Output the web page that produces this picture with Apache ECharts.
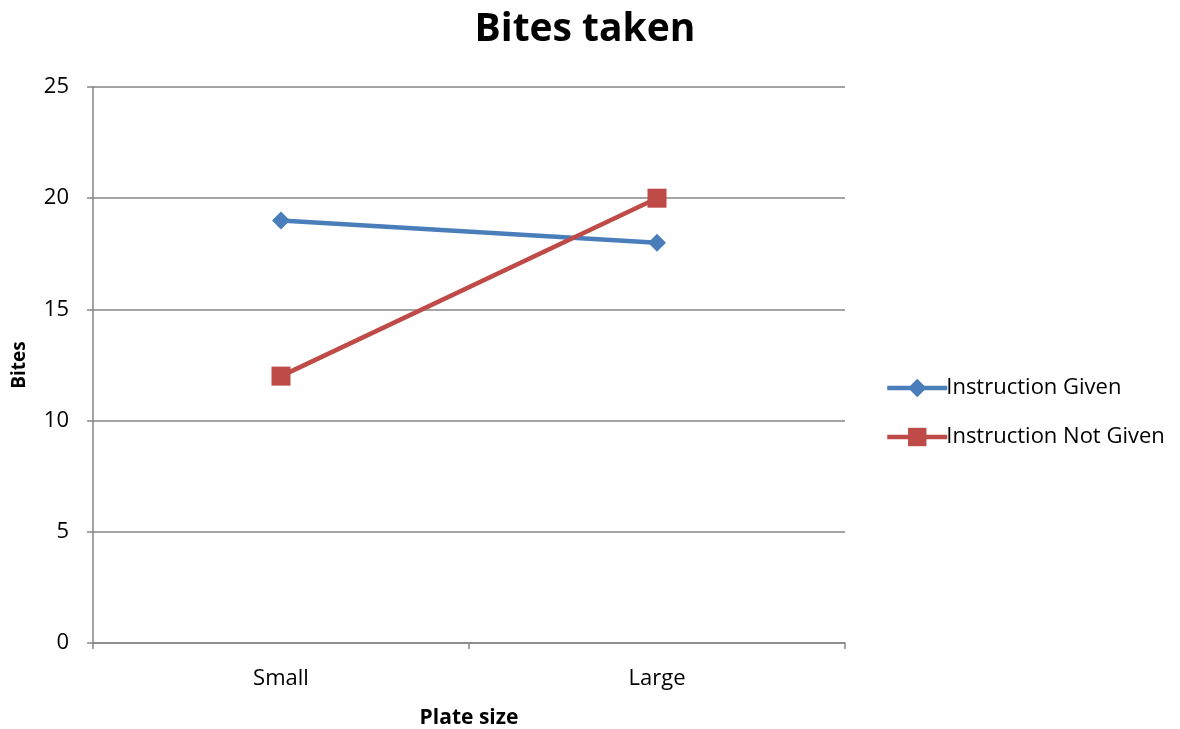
<!DOCTYPE html>
<html>
<head>
<meta charset="utf-8">
<title>Bites taken</title>
<script src="https://cdn.jsdelivr.net/npm/echarts@6/dist/echarts.min.js"></script>
<style>
  html, body { margin: 0; padding: 0; background: #fff; }
  #chart { width: 1180px; height: 729px; }
</style>
</head>
<body>
<div id="chart"></div>
<script>
const categories = ['Small', 'Large'];
const instructionGiven = [19, 18];
const instructionNotGiven = [12, 20];
const yTicks = { min: 0, max: 25, interval: 5 };

const FONT = '"Open Sans", "Liberation Sans", sans-serif';
const chart = echarts.init(document.getElementById('chart'), null, { renderer: 'canvas' });

chart.setOption({
  animation: false,
  backgroundColor: '#ffffff',
  textStyle: { fontFamily: FONT },
  title: {
    text: 'Bites taken',
    left: 580,
    textAlign: 'center',
    top: 5,
    textStyle: { fontFamily: FONT, fontSize: 39, fontWeight: 'bold', color: '#000' }
  },
  legend: {
    orient: 'vertical',
    left: 880,
    top: 372,
    itemWidth: 60,
    itemHeight: 23,
    itemGap: 27,
    lineStyle: { width: 4.5 },
    textStyle: { fontFamily: FONT, fontSize: 22, color: '#000', padding: [0, 0, 0, -6] },
    data: ['Instruction Given', 'Instruction Not Given']
  },
  grid: {
    left: 93, right: 335, top: 87, bottom: 86,
    containLabel: false,
    outerBoundsMode: 'none'
  },
  xAxis: {
    type: 'category',
    data: categories,
    boundaryGap: true,
    name: 'Plate size',
    nameLocation: 'middle',
    nameGap: 65,
    nameTextStyle: { fontFamily: FONT, fontSize: 21, fontWeight: 'bold', color: '#000' },
    axisLine: { lineStyle: { color: '#868686', width: 1.5 } },
    axisTick: { show: true, length: 6, alignWithLabel: false, lineStyle: { color: '#868686', width: 1.5 } },
    axisLabel: { margin: 25, fontFamily: FONT, fontSize: 22, color: '#000' },
    splitLine: { show: false }
  },
  yAxis: {
    type: 'value',
    min: yTicks.min,
    max: yTicks.max,
    interval: yTicks.interval,
    name: 'Bites',
    nameLocation: 'middle',
    nameGap: 64,
    nameRotate: 90,
    nameTextStyle: { fontFamily: FONT, fontSize: 19, fontWeight: 'bold', color: '#000' },
    axisLine: { show: true, lineStyle: { color: '#868686', width: 1.5 } },
    axisTick: { show: true, length: 6, lineStyle: { color: '#868686', width: 1.5 } },
    axisLabel: { margin: 24, fontFamily: FONT, fontSize: 22, color: '#000' },
    splitLine: { show: true, lineStyle: { color: '#868686', width: 1.5 } }
  },
  series: [
    {
      name: 'Instruction Given',
      type: 'line',
      data: instructionGiven,
      symbol: 'diamond',
      symbolSize: 18,
      lineStyle: { color: '#4a7ebb', width: 4.5 },
      itemStyle: { color: '#4a7ebb' }
    },
    {
      name: 'Instruction Not Given',
      type: 'line',
      data: instructionNotGiven,
      symbol: 'rect',
      symbolSize: 19,
      lineStyle: { color: '#be4b48', width: 4.5 },
      itemStyle: { color: '#be4b48' }
    }
  ]
});
</script>
</body>
</html>
